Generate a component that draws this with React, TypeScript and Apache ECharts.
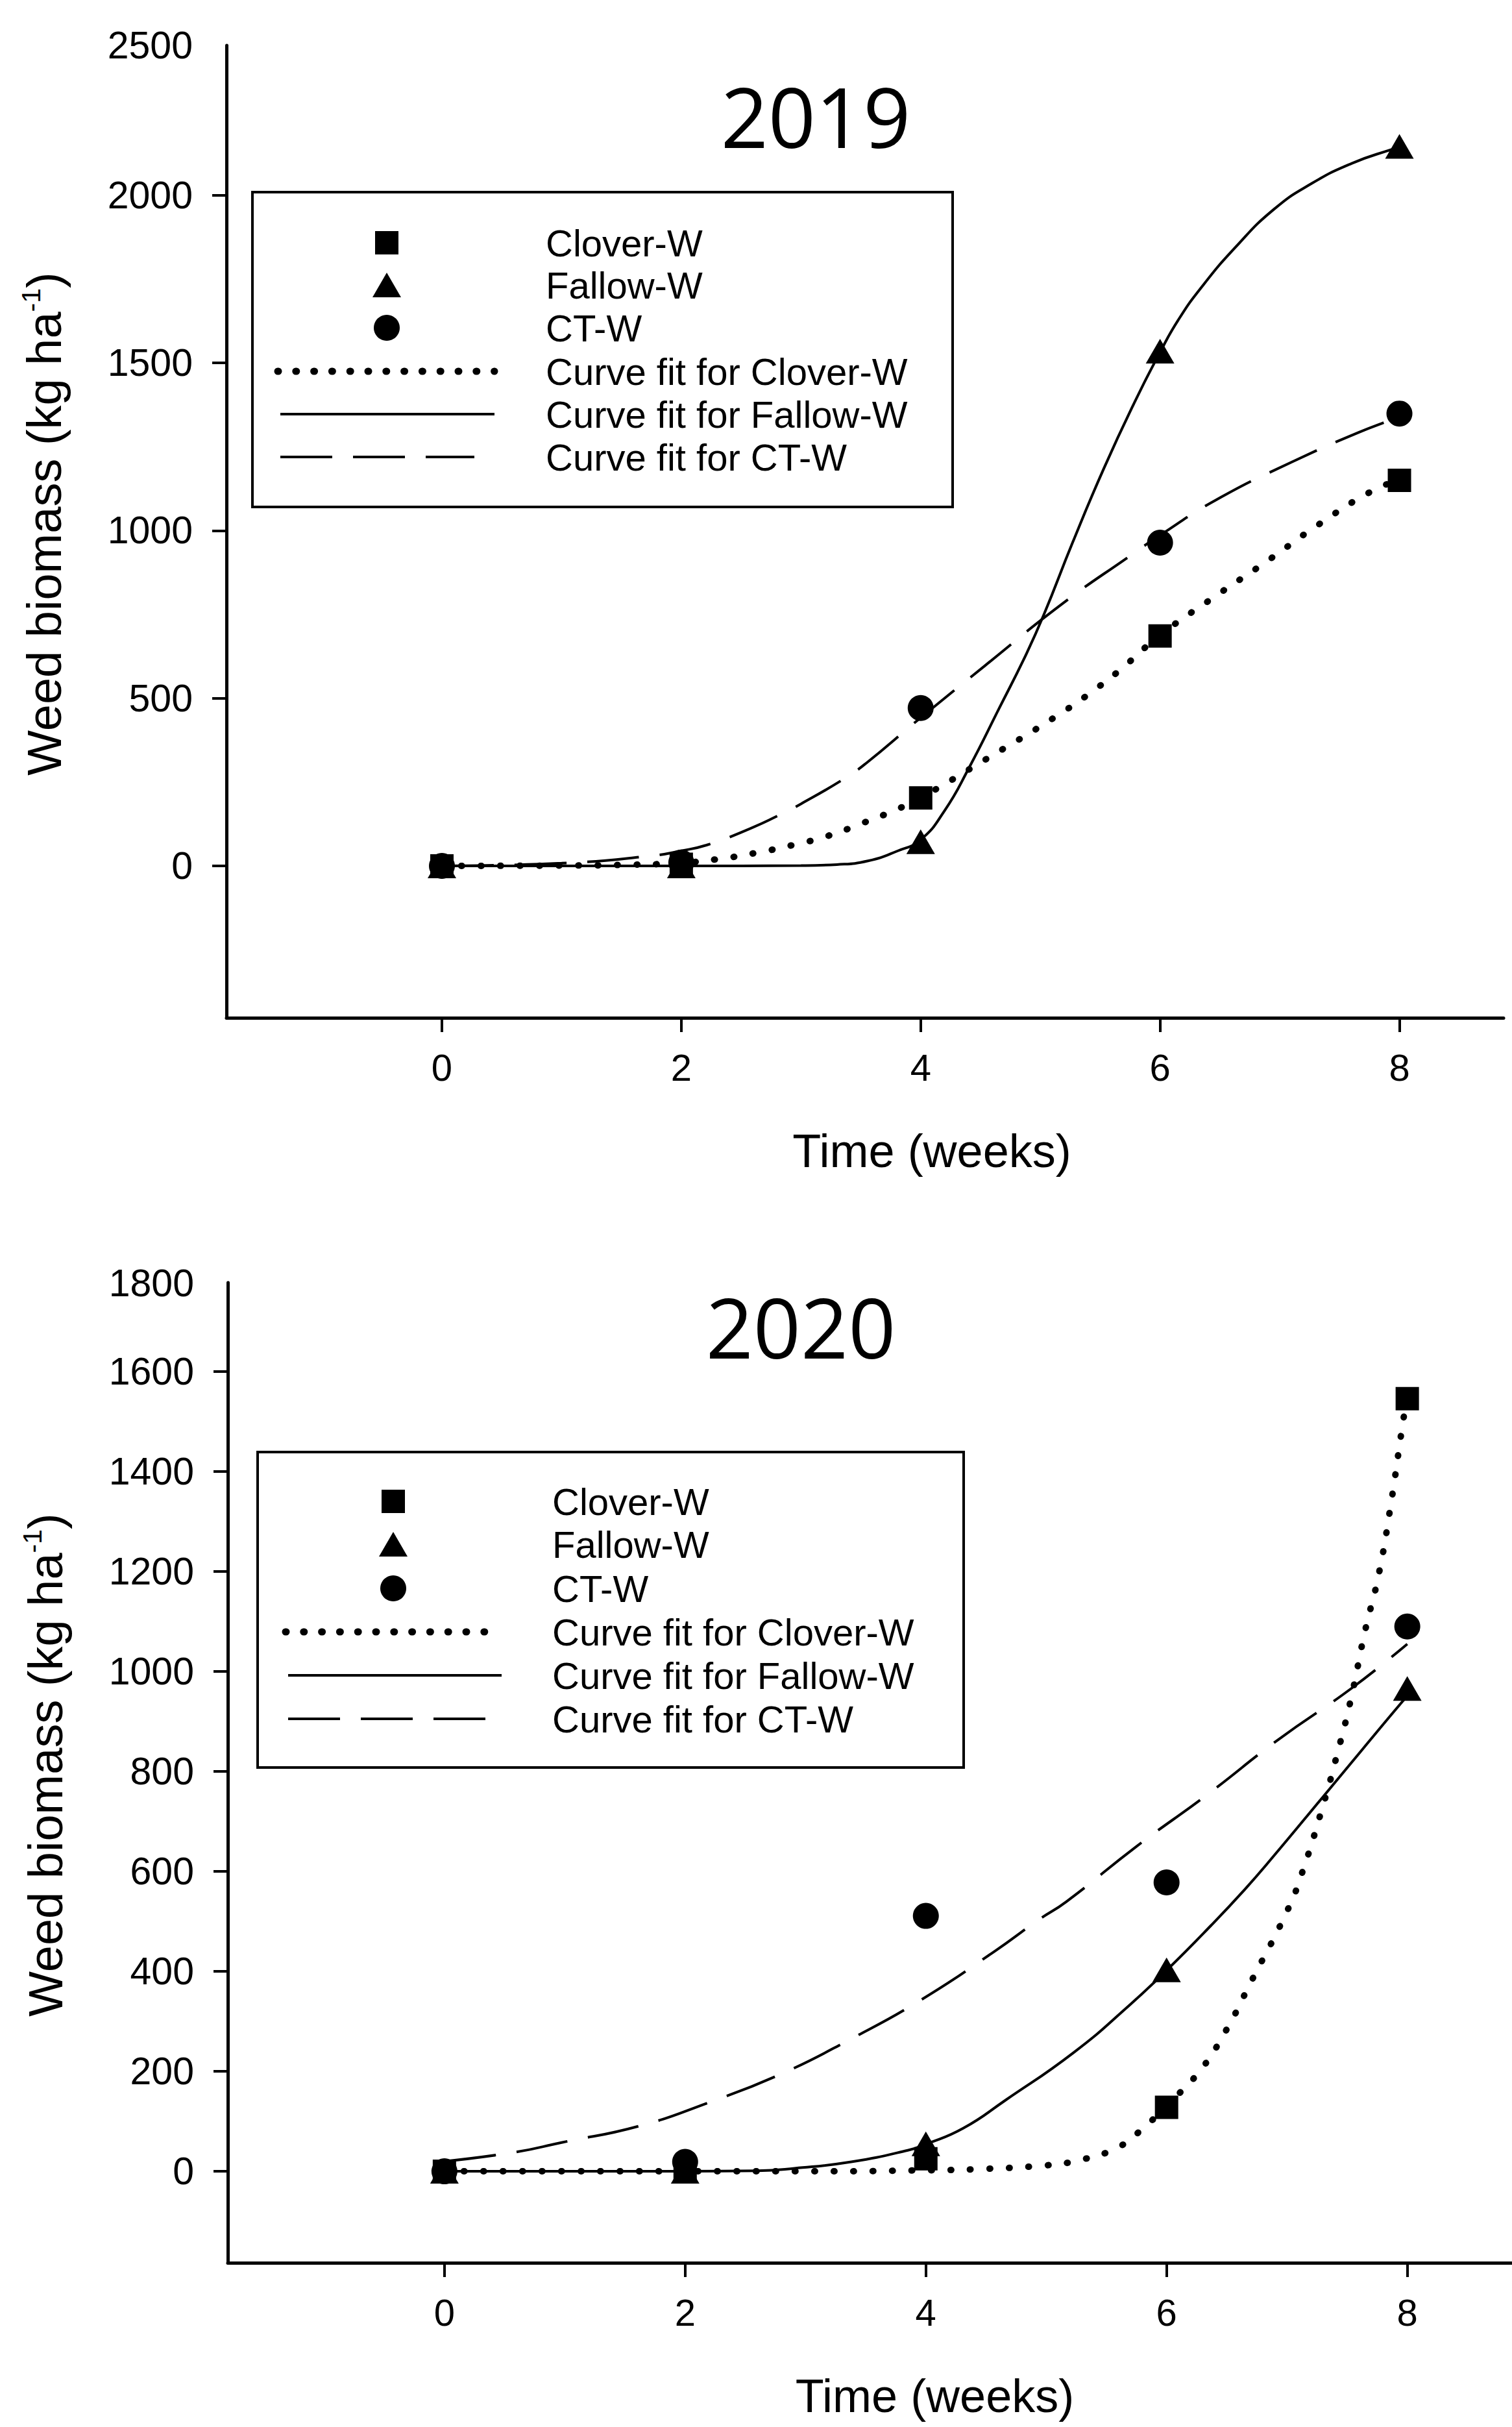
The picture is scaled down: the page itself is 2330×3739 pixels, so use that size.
import React, { useEffect, useRef } from 'react';
import * as echarts from 'echarts';

// ---------- data ----------
const weeks = [0, 2, 4, 6, 8];
const xTicks = [0, 2, 4, 6, 8];

const yTicks2019 = [0, 500, 1000, 1500, 2000];
const yTopLabel2019 = '2500';
const yTicks2020 = [0, 200, 400, 600, 800, 1000, 1200, 1400, 1600];
const yTopLabel2020 = '1800';

const clover2019 = [0, 5, 203, 686, 1150];
const fallow2019 = [0, 0, 72, 1535, 2146];
const ct2019 = [0, 10, 471, 964, 1349];

const clover2020 = [0, 0, 25, 128, 1546];
const fallow2020 = [0, 0, 55, 403, 966];
const ct2020 = [0, 19, 511, 578, 1090];

// fitted curves: [week, kg/ha]
const fitClover2019 = [[0, 0], [1, 1], [1.5, 3], [2, 9], [2.34, 22], [2.64, 40], [2.93, 62], [3.22, 89], [3.51, 127], [3.81, 170], [4, 203], [4.54, 317], [5.14, 448], [5.49, 535], [5.7, 595], [6, 688], [6.44, 799], [6.89, 908], [7.32, 1017], [7.75, 1114], [8, 1152]];
const fitFallow2019 = [[0, 0], [1, 0], [2, 0], [3, 1], [3.3, 4], [3.56, 15], [3.81, 45], [4, 78], [4.2, 165], [4.4, 290], [4.66, 473], [4.88, 630], [5.03, 750], [5.27, 965], [5.53, 1185], [5.79, 1385], [6, 1532], [6.15, 1627], [6.34, 1723], [6.63, 1845], [6.95, 1958], [7.27, 2036], [7.6, 2095], [7.92, 2135], [8, 2142]];
const fitCT2019 = [[0, 0], [1, 8], [1.77, 31], [2, 45], [2.21, 62], [2.5, 100], [2.81, 150], [3, 185], [3.37, 262], [3.54, 305], [3.98, 436], [4.54, 598], [5.18, 781], [5.75, 925], [6, 986], [6.47, 1092], [7.11, 1206], [7.66, 1293], [7.95, 1333], [8, 1340]];

const fitClover2020 = [[0, 0], [1, 0], [2, 0], [3, 0], [4, 2], [4.5, 5], [5, 12], [5.23, 20], [5.57, 45], [5.8, 85], [6, 132], [6.26, 196], [6.48, 276], [6.71, 383], [7, 520], [7.12, 593], [7.3, 732], [7.42, 837], [7.53, 943], [7.65, 1082], [7.76, 1191], [7.86, 1329], [7.97, 1508], [8, 1546]];
const fitFallow2020 = [[0, 0], [1, 0], [2, 0], [2.6, 1], [2.91, 6], [3.38, 19], [3.85, 42], [4, 54], [4.31, 86], [4.66, 142], [5.23, 238], [5.69, 332], [6, 402], [6.37, 492], [6.65, 564], [6.87, 625], [7.33, 758], [7.63, 845], [7.96, 940], [8, 950]];
const fitCT2020 = [[0, 20], [0.58, 38], [0.98, 58], [1.61, 90], [2.2, 138], [2.79, 194], [3.38, 265], [3.96, 343], [4.57, 440], [4.93, 502], [5.17, 540], [5.75, 650], [6.34, 754], [6.93, 864], [7.54, 967], [8, 1055]];

const legendLabels = ['Clover-W', 'Fallow-W', 'CT-W', 'Curve fit for Clover-W', 'Curve fit for Fallow-W', 'Curve fit for CT-W'];
const titles = ['2019', '2020'];
const xName = 'Time (weeks)';

// ---------- styles ----------
const FONT = 'Liberation Sans, Arial, sans-serif';
const BLACK = '#000';
const DOT = [1, 29];
const DASH = [80, 32];

function scatter(name: string, vals: number[], symbol: string, size: any, idx: number) {
  return {
    type: 'scatter', name, xAxisIndex: idx, yAxisIndex: idx,
    data: weeks.map((w, i) => [w, vals[i]]),
    symbol, symbolSize: size, itemStyle: { color: BLACK, opacity: 1 }, z: 6,
  };
}
function fit(name: string, data: number[][], type: any, width: number, cap: string, idx: number) {
  return {
    type: 'line', name, xAxisIndex: idx, yAxisIndex: idx, data,
    showSymbol: false, symbol: 'none', smooth: 0.5,
    lineStyle: { color: BLACK, width, type, cap }, z: 4,
  };
}
function xAxis(idx: number, padLeft: number) {
  return {
    type: 'value', gridIndex: idx, min: -1.8, max: 8.87,
    axisLine: { onZero: false, lineStyle: { color: BLACK, width: 5 } },
    axisTick: { customValues: xTicks, length: 22, lineStyle: { color: BLACK, width: 4 } },
    axisLabel: { customValues: xTicks, margin: 47, fontSize: 58, fontFamily: FONT, color: BLACK, formatter: (v: number) => String(v) },
    splitLine: { show: false },
    name: xName, nameLocation: 'middle', nameGap: 169,
    nameTextStyle: { fontSize: 72, fontFamily: FONT, color: BLACK, padding: [0, 0, 0, padLeft] },
  };
}
function yAxis(idx: number, min: number, max: number, ticks: number[]) {
  return {
    type: 'value', gridIndex: idx, min, max,
    axisLine: { onZero: false, lineStyle: { color: BLACK, width: 5 } },
    axisTick: { customValues: ticks, length: 22, lineStyle: { color: BLACK, width: 4 } },
    axisLabel: { customValues: ticks, margin: 52, fontSize: 59, fontFamily: FONT, color: BLACK, formatter: (v: number) => String(v) },
    splitLine: { show: false },
    name: '{n|Weed biomass (kg ha}{s|-1}{n|)}', nameLocation: 'middle', nameGap: 240,
    nameTextStyle: {
      color: BLACK, padding: [0, 0, 0, 24],
      rich: {
        n: { fontSize: 74, fontFamily: FONT, color: BLACK, lineHeight: 82 },
        s: { fontSize: 41, fontFamily: FONT, color: BLACK, verticalAlign: 'top', lineHeight: 41 },
      },
    },
  };
}

function legend(box: number[], symX: number, rows: number[], lx0: number, lx1: number, dashEnd: number, textX: number) {
  const els: any[] = [];
  els.push({ type: 'rect', shape: { x: box[0], y: box[1], width: box[2], height: box[3] }, style: { fill: 'transparent', stroke: BLACK, lineWidth: 4 } });
  els.push({ type: 'rect', shape: { x: symX - 18, y: rows[0] - 18, width: 36, height: 36 }, style: { fill: BLACK } });
  els.push({ type: 'polygon', shape: { points: [[symX - 22, rows[1] + 19], [symX + 22, rows[1] + 19], [symX, rows[1] - 19]] }, style: { fill: BLACK } });
  els.push({ type: 'circle', shape: { cx: symX, cy: rows[2], r: 20 }, style: { fill: BLACK } });
  els.push({ type: 'line', shape: { x1: lx0, y1: rows[3], x2: lx1, y2: rows[3] }, style: { stroke: BLACK, lineWidth: 11, lineDash: [1, 26.8], lineCap: 'round' } });
  els.push({ type: 'line', shape: { x1: lx0 + 4, y1: rows[4], x2: lx1, y2: rows[4] }, style: { stroke: BLACK, lineWidth: 4 } });
  els.push({ type: 'line', shape: { x1: lx0 + 4, y1: rows[5], x2: dashEnd, y2: rows[5] }, style: { stroke: BLACK, lineWidth: 4, lineDash: DASH } });
  legendLabels.forEach((t, i) => {
    els.push({ type: 'text', x: textX, y: rows[i], style: { text: t, fontSize: 58, fontFamily: FONT, fill: BLACK, align: 'left', verticalAlign: 'middle' } });
  });
  return els;
}

function buildOption() {
  const graphic: any[] = [
    { type: 'text', x: 1257, y: 178, style: { text: titles[0], fontSize: 128, fontFamily: 'Open Sans, Noto Sans, sans-serif', fill: BLACK, align: 'center', verticalAlign: 'middle' } },
    { type: 'text', x: 1234, y: 2043, style: { text: titles[1], fontSize: 128, fontFamily: 'Open Sans, Noto Sans, sans-serif', fill: BLACK, align: 'center', verticalAlign: 'middle' } },
    { type: 'text', x: 297, y: 70, style: { text: yTopLabel2019, fontSize: 59, fontFamily: FONT, fill: BLACK, align: 'right', verticalAlign: 'middle' } },
    { type: 'text', x: 299, y: 1977, style: { text: yTopLabel2020, fontSize: 59, fontFamily: FONT, fill: BLACK, align: 'right', verticalAlign: 'middle' } },
    ...legend([389, 296, 1079, 485], 596, [374, 439, 505, 572, 638, 704], 428, 762, 731, 841),
    ...legend([397, 2237, 1088, 486], 606, [2313, 2379, 2447, 2514, 2581, 2648], 440, 773, 776, 851),
  ];

  return {
    animation: false,
    backgroundColor: '#fff',
    grid: [
      { left: 349, top: 70, width: 1968, height: 1498 },
      { left: 351, top: 1976, width: 1979, height: 1510 },
    ],
    xAxis: [xAxis(0, 206), xAxis(1, 200)],
    yAxis: [yAxis(0, -453, 2447, yTicks2019), yAxis(1, -183, 1778, yTicks2020)],
    series: [
      fit('Curve fit for Clover-W', fitClover2019, DOT, 10, 'round', 0),
      fit('Curve fit for Fallow-W', fitFallow2019, 'solid', 4, 'butt', 0),
      fit('Curve fit for CT-W', fitCT2019, DASH, 4, 'butt', 0),
      scatter('Clover-W', clover2019, 'rect', 36, 0),
      scatter('Fallow-W', fallow2019, 'triangle', [44, 38], 0),
      scatter('CT-W', ct2019, 'circle', 40, 0),
      fit('Curve fit for Clover-W', fitClover2020, DOT, 10, 'round', 1),
      fit('Curve fit for Fallow-W', fitFallow2020, 'solid', 4, 'butt', 1),
      fit('Curve fit for CT-W', fitCT2020, DASH, 4, 'butt', 1),
      scatter('Clover-W', clover2020, 'rect', 36, 1),
      scatter('Fallow-W', fallow2020, 'triangle', [44, 38], 1),
      scatter('CT-W', ct2020, 'circle', 40, 1),
    ],
    graphic,
  };
}

export default function App() {
  const ref = useRef<HTMLDivElement>(null);
  useEffect(() => {
    if (!ref.current) return;
    const chart = echarts.init(ref.current, null, { renderer: 'svg' });
    chart.setOption(buildOption() as any);
    return () => chart.dispose();
  }, []);
  return (
    <div
      ref={ref}
      style={{ position: 'absolute', left: 0, top: 0, width: 2330, height: 3739, background: '#fff' }}
    />
  );
}
